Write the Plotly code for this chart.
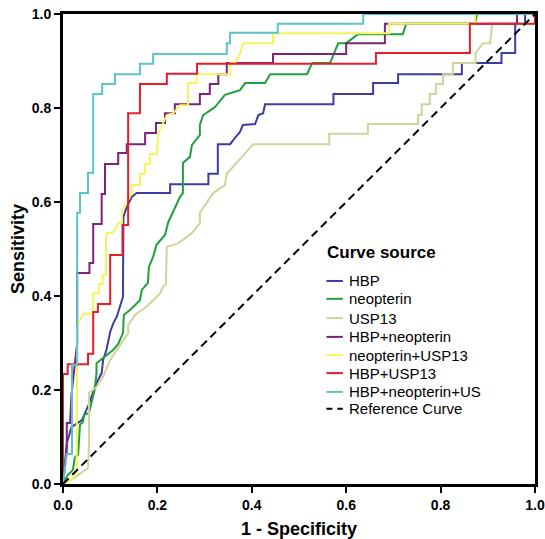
import plotly.graph_objects as go

# ---------------- data (ROC points: (1 - specificity, sensitivity)) ----------------
series_names = ["HBP", "neopterin", "USP13", "HBP+neopterin", "neopterin+USP13",
                "HBP+USP13", "HBP+neopterin+US"]
series_colors = ["#3c3ca2", "#1fa13a", "#d2d29e", "#7b2479", "#f4f45c",
                 "#e61e2a", "#5cc3ca"]

hbp = [(0, 0), (0.004, 0.040), (0.008, 0.087), (0.018, 0.121), (0.040, 0.136), (0.054, 0.168),
       (0.071, 0.215), (0.082, 0.236), (0.085, 0.264), (0.092, 0.285), (0.100, 0.324),
       (0.107, 0.343), (0.114, 0.356), (0.127, 0.398), (0.127, 0.509), (0.128, 0.568),
       (0.135, 0.589), (0.146, 0.611), (0.156, 0.619), (0.227, 0.619), (0.227, 0.638),
       (0.308, 0.638), (0.308, 0.660), (0.328, 0.660), (0.328, 0.723), (0.354, 0.723),
       (0.364, 0.736), (0.375, 0.749), (0.381, 0.764), (0.407, 0.766), (0.414, 0.785),
       (0.424, 0.789), (0.428, 0.808), (0.573, 0.808), (0.573, 0.830), (0.657, 0.830),
       (0.657, 0.853), (0.710, 0.853), (0.710, 0.872), (0.845, 0.872), (0.845, 0.896),
       (0.929, 0.896), (0.929, 0.917), (0.958, 0.917), (0.958, 0.979), (0.979, 0.979),
       (0.979, 1.0), (1.0, 1.0)]

neopterin = [(0, 0), (0.010, 0.019), (0.021, 0.030), (0.025, 0.057), (0.032, 0.062),
             (0.036, 0.126), (0.042, 0.132), (0.045, 0.147), (0.055, 0.151), (0.067, 0.200),
             (0.071, 0.236), (0.071, 0.257), (0.085, 0.268), (0.106, 0.285), (0.117, 0.298),
             (0.127, 0.321), (0.129, 0.360), (0.142, 0.370), (0.163, 0.391), (0.167, 0.413),
             (0.180, 0.428), (0.182, 0.462), (0.191, 0.483), (0.198, 0.509), (0.216, 0.530),
             (0.223, 0.557), (0.248, 0.611), (0.254, 0.619), (0.254, 0.683), (0.269, 0.696),
             (0.273, 0.721), (0.290, 0.743), (0.290, 0.764), (0.297, 0.785), (0.322, 0.802),
             (0.343, 0.828), (0.375, 0.838), (0.386, 0.853), (0.428, 0.853), (0.439, 0.872),
             (0.517, 0.872), (0.528, 0.896), (0.566, 0.896), (0.583, 0.938), (0.600, 0.938),
             (0.625, 0.957), (0.720, 0.957), (0.727, 0.979), (0.873, 0.979), (0.877, 1.0),
             (1.0, 1.0)]

usp13 = [(0, 0), (0.015, 0.008), (0.032, 0.019), (0.053, 0.034), (0.055, 0.079), (0.055, 0.194),
         (0.071, 0.206), (0.085, 0.228), (0.100, 0.264), (0.117, 0.291), (0.128, 0.306),
         (0.138, 0.321), (0.138, 0.338), (0.153, 0.360), (0.177, 0.377), (0.206, 0.406),
         (0.212, 0.420), (0.218, 0.425), (0.220, 0.505), (0.244, 0.512), (0.272, 0.533),
         (0.290, 0.555), (0.290, 0.577), (0.318, 0.619), (0.343, 0.636), (0.347, 0.660),
         (0.403, 0.723), (0.564, 0.723), (0.564, 0.745), (0.646, 0.745), (0.646, 0.766),
         (0.752, 0.766), (0.752, 0.785), (0.760, 0.785), (0.760, 0.808), (0.777, 0.808),
         (0.777, 0.830), (0.790, 0.830), (0.790, 0.851), (0.805, 0.851), (0.805, 0.872),
         (0.826, 0.872), (0.826, 0.896), (0.874, 0.896), (0.874, 0.917), (0.890, 0.938),
         (0.905, 0.938), (0.909, 0.979), (1.0, 0.979), (1.0, 1.0)]

hbp_neopterin = [(0, 0), (0.004, 0.030), (0.008, 0.072), (0.008, 0.130), (0.015, 0.130),
                 (0.018, 0.190), (0.025, 0.250), (0.030, 0.300), (0.030, 0.449), (0.056, 0.449),
                 (0.056, 0.470), (0.064, 0.470), (0.064, 0.553), (0.082, 0.553), (0.082, 0.617),
                 (0.089, 0.617), (0.089, 0.681), (0.117, 0.681), (0.117, 0.704), (0.135, 0.704),
                 (0.135, 0.723), (0.174, 0.723), (0.174, 0.747), (0.197, 0.747), (0.197, 0.768),
                 (0.216, 0.768), (0.216, 0.789), (0.237, 0.789), (0.237, 0.808), (0.290, 0.808),
                 (0.290, 0.830), (0.311, 0.830), (0.311, 0.851), (0.329, 0.851), (0.329, 0.872),
                 (0.347, 0.872), (0.347, 0.896), (0.445, 0.896), (0.445, 0.915), (0.600, 0.915),
                 (0.600, 0.938), (0.682, 0.938), (0.682, 0.979), (0.962, 0.979), (0.962, 1.0),
                 (1.0, 1.0)]

neopterin_usp13 = [(0, 0), (0.020, 0.010), (0.029, 0.025), (0.030, 0.338), (0.043, 0.362),
                   (0.064, 0.362), (0.064, 0.406), (0.076, 0.406), (0.076, 0.425), (0.084, 0.425),
                   (0.084, 0.445), (0.091, 0.445), (0.091, 0.519), (0.093, 0.534), (0.106, 0.534),
                   (0.117, 0.555), (0.125, 0.555), (0.125, 0.579), (0.146, 0.619), (0.146, 0.636),
                   (0.163, 0.636), (0.163, 0.660), (0.174, 0.660), (0.174, 0.681), (0.184, 0.681),
                   (0.184, 0.702), (0.199, 0.702), (0.202, 0.747), (0.220, 0.785), (0.234, 0.789),
                   (0.248, 0.806), (0.265, 0.806), (0.265, 0.853), (0.283, 0.853), (0.283, 0.872),
                   (0.354, 0.872), (0.354, 0.895), (0.364, 0.895), (0.375, 0.915), (0.382, 0.938),
                   (0.445, 0.938), (0.445, 0.959), (0.691, 0.959), (0.691, 0.979), (0.873, 0.979),
                   (0.873, 1.0), (1.0, 1.0)]

hbp_usp13 = [(0, 0), (0, 0.234), (0.010, 0.234), (0.010, 0.255), (0.053, 0.255), (0.053, 0.277),
             (0.064, 0.277), (0.064, 0.366), (0.074, 0.366), (0.074, 0.383), (0.100, 0.383),
             (0.100, 0.487), (0.126, 0.487), (0.126, 0.551), (0.138, 0.551), (0.138, 0.789),
             (0.163, 0.789), (0.163, 0.851), (0.220, 0.851), (0.220, 0.873), (0.284, 0.873),
             (0.284, 0.894), (0.663, 0.894), (0.663, 0.917), (0.862, 0.917), (0.862, 0.979),
             (1.0, 0.979), (1.0, 1.0)]

hbp_neopterin_usp13 = [(0, 0), (0.008, 0.064), (0.019, 0.064), (0.019, 0.253), (0.030, 0.253),
                       (0.030, 0.577), (0.036, 0.577), (0.036, 0.619), (0.053, 0.619),
                       (0.053, 0.662), (0.064, 0.662), (0.064, 0.830), (0.083, 0.830),
                       (0.083, 0.851), (0.110, 0.851), (0.110, 0.872), (0.163, 0.872),
                       (0.163, 0.894), (0.191, 0.894), (0.191, 0.915), (0.347, 0.915),
                       (0.347, 0.938), (0.354, 0.938), (0.354, 0.960), (0.455, 0.960),
                       (0.455, 0.979), (0.636, 0.979), (0.636, 1.0), (1.0, 1.0)]

reference_fpr = [0.0, 1.0]
reference_tpr = [0.0, 1.0]
reference_name = "Reference Curve"

legend_title = "Curve source"
x_title = "1 - Specificity"
y_title = "Sensitivity"
tick_values = [0.0, 0.2, 0.4, 0.6, 0.8, 1.0]

curves = [hbp, neopterin, usp13, hbp_neopterin, neopterin_usp13, hbp_usp13, hbp_neopterin_usp13]

# ---------------- figure ----------------
FONT = "Liberation Sans, Arial, Helvetica, sans-serif"
fig = go.Figure()

for name, pts, color in zip(series_names, curves, series_colors):
    fig.add_trace(go.Scatter(
        x=[p[0] for p in pts], y=[p[1] for p in pts], mode="lines", name=name,
        line=dict(color=color, width=2), showlegend=False, hoverinfo="x+y+name"))

fig.add_trace(go.Scatter(
    x=reference_fpr, y=reference_tpr, mode="lines", name=reference_name,
    line=dict(color="black", width=2, dash="8px,5px"), showlegend=False))

# custom legend (matches the SPSS-style legend block)
leg_y = [0.432, 0.394, 0.353, 0.313, 0.274, 0.236, 0.196, 0.160]
leg_x0, leg_x1, leg_tx = 0.558, 0.593, 0.601
annotations = [dict(text="<b>%s</b>" % legend_title, x=0.556, y=0.492, xref="paper", yref="paper",
                    xanchor="left", yanchor="middle", showarrow=False,
                    font=dict(family=FONT, size=17, color="black"))]
shapes = []
labels = series_names + [reference_name]
lcolors = series_colors + ["black"]
for i, (lab, col) in enumerate(zip(labels, lcolors)):
    y = leg_y[i]
    shapes.append(dict(type="line", xref="paper", yref="paper", x0=leg_x0, x1=leg_x1, y0=y, y1=y,
                       line=dict(color=col, width=2, dash=("6px,5px" if lab == reference_name else "solid"))))
    annotations.append(dict(text=lab, x=leg_tx, y=y, xref="paper", yref="paper",
                            xanchor="left", yanchor="middle", showarrow=False,
                            font=dict(family=FONT, size=15, color="black")))

axis_common = dict(range=[0, 1], tickvals=tick_values, tickformat=".1f", ticks="outside",
                   ticklen=6, tickwidth=2, tickcolor="black", showline=True, linewidth=3,
                   linecolor="black", mirror=True, showgrid=False, zeroline=False,
                   automargin=False,
                   tickfont=dict(family=FONT, size=14, color="black", weight="bold"))

fig.update_layout(
    width=545, height=539,
    margin=dict(l=63, r=10, t=14, b=55, autoexpand=False),
    paper_bgcolor="white", plot_bgcolor="white",
    font=dict(family=FONT, color="black"),
    xaxis=dict(axis_common, title=dict(text=x_title, standoff=12,
               font=dict(family=FONT, size=18, color="black", weight="bold"))),
    yaxis=dict(axis_common, title=dict(text=y_title, standoff=3,
               font=dict(family=FONT, size=18, color="black", weight="bold"))),
    annotations=annotations, shapes=shapes, showlegend=False,
)

fig.write_html("out.html", config={"displayModeBar": False},
               post_script="document.body.style.margin='0px';document.body.style.overflow='hidden';")
